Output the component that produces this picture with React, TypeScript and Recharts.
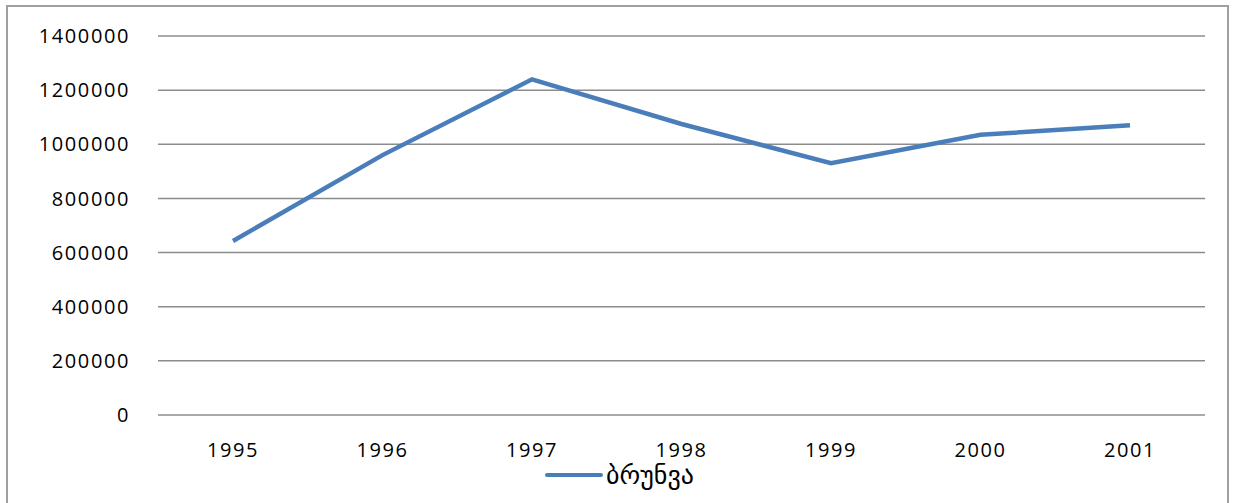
import React from 'react';
import { LineChart, Line, XAxis, YAxis, CartesianGrid, Legend } from 'recharts';

const YEARS = ['1995', '1996', '1997', '1998', '1999', '2000', '2001'];
const TURNOVER = [643000, 960000, 1240000, 1075000, 930000, 1035000, 1070000];
const Y_TICKS = [0, 200000, 400000, 600000, 800000, 1000000, 1200000, 1400000];
const SERIES_NAME = 'ბრუნვა';

const data = YEARS.map((year, i) => ({ year, value: TURNOVER[i] }));

const FONT = "'Open Sans', 'DejaVu Sans', sans-serif";
const LINE_COLOR = '#4a7ebb';

function LegendContent() {
  return (
    <div style={{ display: 'flex', justifyContent: 'center', alignItems: 'center', height: 30, paddingLeft: 34 }}>
      <svg width={58} height={10} style={{ marginRight: 3 }}>
        <line x1={2} y1={5} x2={56} y2={5} stroke={LINE_COLOR} strokeWidth={4} strokeLinecap="round" />
      </svg>
      <span style={{ fontFamily: "'DejaVu Sans', sans-serif", fontSize: 26, color: '#000', lineHeight: '22px' }}>
        {SERIES_NAME}
      </span>
    </div>
  );
}

export default function App() {
  const tickStyle = { fill: '#000', fontSize: 20, fontFamily: FONT, letterSpacing: 1.6 };
  return (
    <div style={{ position: 'absolute', left: 0, top: 0, width: 1233, height: 503, background: '#fff' }}>
      <div
        style={{
          position: 'absolute',
          left: 6,
          top: 5,
          width: 1223,
          height: 510,
          border: '2px solid #a0a0a0',
          boxSizing: 'border-box',
        }}
      />
      <LineChart
        width={1233}
        height={503}
        data={data}
        margin={{ top: 36, right: 28, left: 0, bottom: 13 }}
      >
        <CartesianGrid vertical={false} stroke="#8c8c8c" strokeWidth={1.5} />
        <XAxis
          dataKey="year"
          height={45}
          axisLine={false}
          tickLine={false}
          tickSize={0}
          tickMargin={28}
          padding={{ left: 75, right: 75 }}
          tick={tickStyle}
        />
        <YAxis
          width={158}
          domain={[0, 1400000]}
          ticks={Y_TICKS}
          interval={0}
          axisLine={false}
          tickLine={false}
          tickSize={0}
          tickMargin={28}
          tick={tickStyle}
        />
        <Legend verticalAlign="bottom" height={30} content={<LegendContent />} />
        <Line
          type="linear"
          dataKey="value"
          name={SERIES_NAME}
          stroke={LINE_COLOR}
          strokeWidth={4.5}
          dot={false}
          isAnimationActive={false}
        />
      </LineChart>
    </div>
  );
}
